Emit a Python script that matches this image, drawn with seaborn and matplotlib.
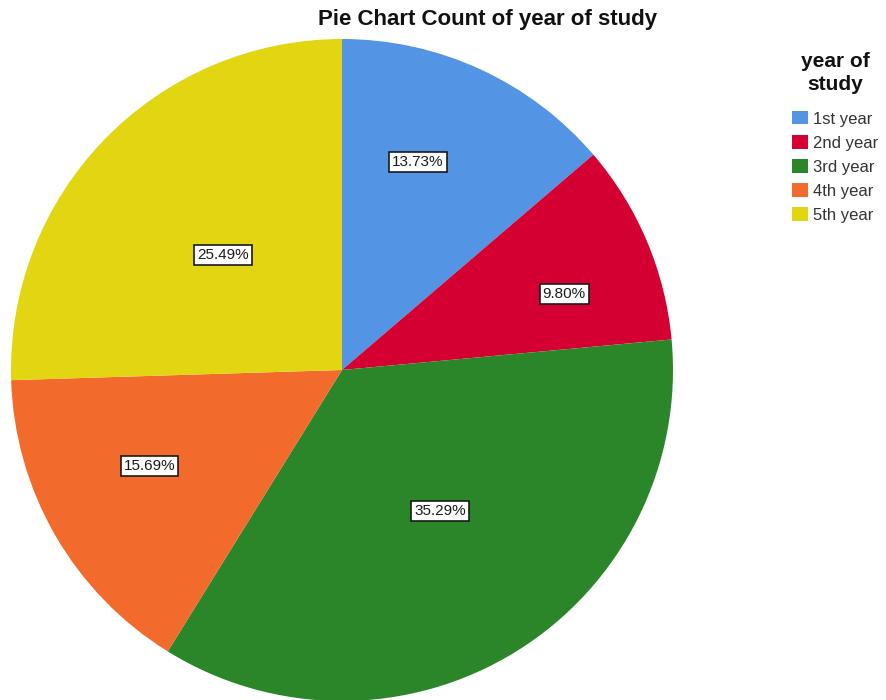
import numpy as np
import matplotlib
matplotlib.use("Agg")
import matplotlib.pyplot as plt
import seaborn as sns
from matplotlib.patches import Patch

categories = ["1st year", "2nd year", "3rd year", "4th year", "5th year"]
counts = [7, 5, 18, 8, 13]
colors = ["#5494E4", "#D50032", "#2A8629", "#F26A2C", "#E2D511"]

# label placement: distance from centre (fraction of radius) and angle shift from the slice middle
label_radius = [0.67, 0.71, 0.52, 0.65, 0.50]
label_shift = [4.7, -4.0, 3.0, -3.5, 0.0]

sns.set_theme(style="white")
plt.rcParams["font.family"] = ["Liberation Sans", "DejaVu Sans"]

fig = plt.figure(figsize=(8.87, 7.0), dpi=100)
ax = fig.add_axes([11 / 887, -1 / 700, 662 / 887, 662 / 700])

wedges, _ = ax.pie(
    counts,
    colors=colors,
    startangle=90,
    counterclock=False,
    wedgeprops={"linewidth": 0},
)
ax.set_xlim(-1, 1)
ax.set_ylim(-1, 1)
ax.set_aspect("equal")
ax.axis("off")

total = sum(counts)
for w, n, r, s in zip(wedges, counts, label_radius, label_shift):
    mid = np.deg2rad((w.theta1 + w.theta2) / 2 + s)
    ax.text(
        r * np.cos(mid), r * np.sin(mid), f"{100 * n / total:.2f}%",
        ha="center", va="center", fontsize=11, color="#1a1a1a",
        bbox=dict(boxstyle="square,pad=0.2", facecolor="white",
                  edgecolor="#1a1a1a", linewidth=1.2),
    )

fig.text(488 / 887, 1 - 20 / 700, "Pie Chart Count of year of study",
         ha="center", va="center", fontsize=16, fontweight="bold",
         color="#111111")

handles = [Patch(facecolor=c, edgecolor="none") for c in colors]
leg = fig.legend(
    handles, categories,
    title="year of\nstudy",
    loc="upper left",
    bbox_to_anchor=(792 / 887, 1 - 52 / 700),
    frameon=False,
    fontsize=12,
    title_fontproperties={"weight": "bold", "size": 15},
    handlelength=0.95,
    handleheight=0.85,
    handletextpad=0.3,
    labelspacing=0.52,
    borderaxespad=0,
    borderpad=0,
)
leg._legend_box.sep = 12
for t in leg.get_texts():
    t.set_color("#333333")
title = leg.get_title()
title.set_color("#111111")
title.set_multialignment("center")
title.set_linespacing(1.3)

fig.savefig("out.png", dpi=100)
